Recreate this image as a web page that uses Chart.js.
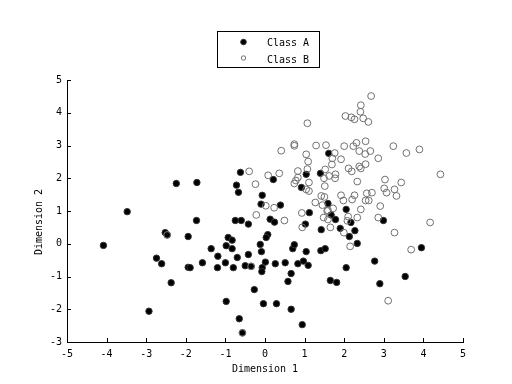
<!DOCTYPE html>
<html><head><meta charset="utf-8">
<script src="https://cdn.jsdelivr.net/npm/chart.js@4/dist/chart.umd.min.js"></script>
<style>html,body{margin:0;padding:0;background:#fff}#wrap{width:512px;height:384px}</style>
</head><body><div id="wrap"><canvas id="c" width="512" height="384"></canvas></div>
<script>
const seriesNames = ["Class A", "Class B"];
const xTitle = "Dimension 1";
const yTitle = "Dimension 2";
const xTickValues = [-5,-4,-3,-2,-1,0,1,2,3,4,5];
const yTickValues = [-3,-2,-1,0,1,2,3,4,5];

const classAX = [-2.24,-1.72,-3.48,-1.73,-2.52,-2.47,-1.94,-4.08,-2.74,-2.61,-1.94,-2.37,-2.93,
  -0.62,0.21,-0.72,-0.67,-0.07,-0.10,0.39,-0.75,-0.60,-0.42,0.13,0.24,-0.93,-0.83,-0.98,0.07,0.03,
  -0.12,-1.36,-0.83,0.70,0.74,1.04,1.40,0.92,1.12,1.02,1.42,1.59,1.61,-0.09,1.04,-1.89,-1.58,-1.19,
  -1.20,-1.00,-0.80,-0.70,-0.50,-0.42,-0.35,-0.07,-0.08,0.01,0.26,0.51,0.66,0.58,0.83,0.97,1.09,
  1.41,1.52,-0.27,-0.98,-0.04,0.29,0.66,-0.65,-0.57,0.94,1.65,1.81,1.67,1.78,2.05,2.17,2.27,2.13,
  1.90,2.99,2.33,3.95,2.05,2.77,2.90,3.54];
const classAY = [1.84,1.87,0.98,0.71,0.34,0.27,0.22,-0.05,-0.44,-0.61,-0.72,-1.19,-2.06,
  2.18,1.96,1.79,1.57,1.48,1.21,1.18,0.71,0.71,0.60,0.75,0.66,0.19,0.11,-0.06,0.28,0.19,
  -0.02,-0.15,-0.15,-0.15,-0.03,2.12,2.15,1.72,0.95,0.60,0.43,1.23,2.76,-0.24,-0.24,-0.73,-0.58,-0.38,
  -0.73,-0.58,-0.73,-0.42,-0.67,-0.33,-0.69,-0.73,-0.85,-0.56,-0.61,-0.58,-0.91,-1.15,-0.61,-0.53,-0.66,
  -0.21,-0.15,-1.40,-1.76,-1.83,-1.83,-2.00,-2.29,-2.72,-2.47,-1.12,-1.18,0.88,0.74,1.05,0.65,0.40,0.22,
  0.47,0.71,0.01,-0.12,-0.73,-0.53,-1.22,-1.00];

const classBX = [0.41,0.74,0.74,1.29,1.54,1.04,1.09,1.07,0.83,-0.40,0.08,0.36,0.83,0.78,0.74,1.11,
  1.04,1.11,-0.24,1.51,1.42,1.50,1.27,1.45,0.02,0.23,-0.22,0.93,1.57,1.48,0.49,0.94,2.68,2.42,2.41,
  2.03,2.18,2.26,2.48,2.61,1.07,2.00,2.23,2.31,2.54,3.24,3.90,3.57,2.86,2.38,2.53,2.66,1.76,1.70,
  1.92,1.69,1.52,2.11,2.19,2.38,2.54,2.42,4.43,1.78,1.62,1.77,3.03,3.44,2.33,3.01,3.27,3.07,3.32,
  2.57,2.70,2.54,2.62,2.26,2.20,1.92,1.98,2.91,2.42,2.33,2.86,4.17,3.27,3.69,2.15,2.10,2.08,1.99,
  1.65,1.59,1.72,1.59,1.49,3.11,-2.47,-0.35,-0.57];
const classBY = [2.84,3.04,2.99,3.00,3.01,2.73,2.51,2.28,2.22,2.21,2.09,2.15,2.02,1.93,1.84,1.87,
  1.66,1.61,1.82,1.76,1.46,1.43,1.26,1.18,1.16,1.10,0.88,0.94,1.00,0.80,0.71,0.50,4.51,4.23,4.03,
  3.90,3.86,3.80,3.83,3.72,3.68,2.98,2.98,3.08,3.13,2.98,2.88,2.77,2.61,2.83,2.74,2.83,2.77,2.61,
  2.58,2.42,2.27,2.30,2.21,2.36,2.43,2.30,2.12,2.12,2.07,2.00,1.96,1.87,1.90,1.69,1.66,1.56,1.46,
  1.54,1.56,1.32,1.32,1.48,1.35,1.48,1.32,1.15,1.05,0.80,0.80,0.65,0.34,-0.18,-0.08,0.83,0.70,0.34,
  0.50,0.74,1.08,1.02,2.00,-1.74,0.27,-0.69,-2.72];

const toPts = (xs, ys) => xs.map((x, i) => ({x: x, y: ys[i]}));
const FONT = {family: "'DejaVu Sans Mono', monospace", size: 10};

const styleA = {bg: '#000000', border: '#333333', radius: 3.2, legendR: 2.8};
const styleB = {bg: 'rgba(0,0,0,0)', border: '#707070', radius: 3.4, legendR: 2.2};

const tickMarks = {
  id: 'tickMarks',
  afterDraw(chart) {
    const ctx = chart.ctx, xs = chart.scales.x, ys = chart.scales.y;
    const a = chart.chartArea;
    ctx.save();
    ctx.strokeStyle = '#000'; ctx.lineWidth = 1;
    ctx.beginPath();
    xs.ticks.forEach((t, i) => {
      const px = Math.round(xs.getPixelForTick(i)) + 0.5;
      ctx.moveTo(px, a.bottom); ctx.lineTo(px, a.bottom - 4);
    });
    ys.ticks.forEach((t, i) => {
      const py = Math.round(ys.getPixelForTick(i)) + 0.5;
      ctx.moveTo(a.left, py); ctx.lineTo(a.left + 4, py);
    });
    ctx.stroke();
    ctx.fillStyle = '#000';
    ctx.font = "10px 'DejaVu Sans Mono', monospace";
    ctx.textAlign = 'center'; ctx.textBaseline = 'middle';
    ctx.translate(39, 222);
    ctx.rotate(-Math.PI / 2);
    ctx.fillText(yTitle, 0, 0);
    ctx.restore();
  }
};

const boxLegend = {
  id: 'boxLegend',
  afterDraw(chart) {
    const ctx = chart.ctx;
    ctx.save();
    ctx.fillStyle = '#fff';
    ctx.fillRect(217.5, 31.5, 102, 36);
    ctx.strokeStyle = '#000'; ctx.lineWidth = 1;
    ctx.strokeRect(217.5, 31.5, 102, 36);
    ctx.font = "10px 'DejaVu Sans Mono', monospace";
    ctx.textAlign = 'left'; ctx.textBaseline = 'middle';
    const styles = [styleA, styleB];
    chart.data.datasets.forEach((ds, i) => {
      const my = 42 + i * 16;
      const ty = 43.5 + i * 17;
      const s = styles[i];
      ctx.beginPath();
      ctx.arc(243.5, my, s.legendR, 0, Math.PI * 2);
      ctx.fillStyle = s.bg; ctx.fill();
      ctx.strokeStyle = s.border; ctx.stroke();
      ctx.fillStyle = '#000';
      ctx.fillText(ds.label, 267, ty);
    });
    ctx.restore();
  }
};

new Chart(document.getElementById('c'), {
  type: 'scatter',
  data: {
    datasets: [
      {label: seriesNames[0], data: toPts(classAX, classAY), order: 2,
       pointRadius: styleA.radius, pointBackgroundColor: styleA.bg, pointBorderColor: styleA.border, pointBorderWidth: 1},
      {label: seriesNames[1], data: toPts(classBX, classBY), order: 1,
       pointRadius: styleB.radius, pointBackgroundColor: styleB.bg, pointBorderColor: styleB.border, pointBorderWidth: 1}
    ]
  },
  options: {
    responsive: false, animation: false, devicePixelRatio: 1,
    layout: {padding: {left: 0, top: 80, right: 49, bottom: 0}},
    plugins: {legend: {display: false}, tooltip: {enabled: false}},
    scales: {
      x: {
        type: 'linear', min: -5, max: 5,
        afterFit(s) { s.height = 42; },
        afterBuildTicks(s) { s.ticks = xTickValues.map(v => ({value: v})); },
        grid: {display: false, drawTicks: false},
        border: {display: true, color: '#000', width: 1},
        ticks: {font: FONT, color: '#000', padding: 6, maxRotation: 0, autoSkip: false},
        title: {display: true, text: xTitle, font: FONT, color: '#000', padding: {top: 0, bottom: 9}}
      },
      y: {
        type: 'linear', min: -3, max: 5,
        afterFit(s) { s.width = 67; },
        afterBuildTicks(s) { s.ticks = yTickValues.map(v => ({value: v})); },
        grid: {display: false, drawTicks: false},
        border: {display: true, color: '#000', width: 1},
        ticks: {font: FONT, color: '#000', padding: 5, autoSkip: false},
        title: {display: false}
      }
    }
  },
  plugins: [tickMarks, boxLegend]
});
</script></body></html>
